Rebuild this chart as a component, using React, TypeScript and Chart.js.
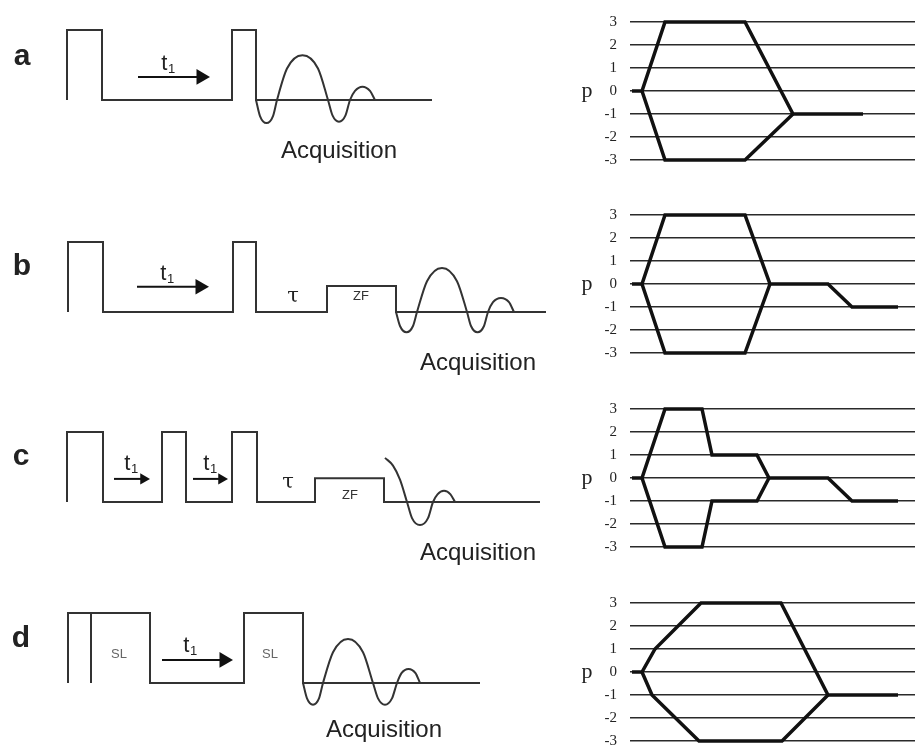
import React, { useEffect, useRef } from 'react';
import { Chart, registerables } from 'chart.js';
Chart.register(...registerables);

// ---------------- DATA ----------------
// Pulse sequences (time in a.u., amplitude: 0 = baseline, 1 = pulse top)
const seqA_t = [67, 67, 102, 102, 232, 232, 256, 256, 432];
const seqA_amp = [0, 1, 1, 0, 0, 1, 1, 0, 0];
const fidA_t = [256, 260, 266.5, 273, 277, 287, 302.5, 318, 328, 332.5, 339, 345.5, 350, 355, 362.5, 370, 375];
const fidA_amp = [0, -0.23, -0.33, -0.23, 0, 0.45, 0.64, 0.45, 0, -0.22, -0.31, -0.22, 0, 0.13, 0.19, 0.13, 0];

const seqB_t = [68, 68, 103, 103, 233, 233, 256, 256, 327, 327, 396, 396, 546];
const seqB_amp = [0, 1, 1, 0, 0, 1, 1, 0, 0, 0.37, 0.37, 0, 0];
const fidB_t = [396, 400, 406.5, 413, 417, 427, 442, 457, 467, 471, 477.5, 484, 488, 493, 501, 509, 514];
const fidB_amp = [0, -0.2, -0.29, -0.2, 0, 0.44, 0.63, 0.44, 0, -0.2, -0.29, -0.2, 0, 0.14, 0.2, 0.14, 0];

const seqC_t = [67, 67, 103, 103, 162, 162, 186, 186, 232, 232, 257, 257, 315, 315, 384, 384, 540];
const seqC_amp = [0, 1, 1, 0, 0, 1, 1, 0, 0, 1, 1, 0, 0, 0.34, 0.34, 0, 0];
const fidC_t = [385, 393, 400, 407, 412, 420, 428, 433, 437.5, 444, 450.5, 455];
const fidC_amp = [0.63, 0.52, 0.32, 0, -0.23, -0.33, -0.23, 0, 0.11, 0.16, 0.11, 0];

const seqD_t = [68, 68, 150, 150, 244, 244, 303, 303, 480];
const seqD_amp = [0, 1, 1, 0, 0, 1, 1, 0, 0];
const slD_t = [91, 91];
const slD_amp = [0, 1];
const fidD_t = [303, 307, 313, 319, 323, 333, 348, 363, 373, 378, 385, 392, 397, 401.5, 408.5, 415.5, 420];
const fidD_amp = [0, -0.22, -0.31, -0.22, 0, 0.44, 0.63, 0.44, 0, -0.22, -0.31, -0.22, 0, 0.14, 0.2, 0.14, 0];

// t1 evolution arrows: [start, end, level]
const arrowsA = [[138, 210, 0.33]];
const arrowsB = [[137, 209, 0.36]];
const arrowsC = [[114, 150, 0.33], [193, 228, 0.33]];
const arrowsD = [[162, 233, 0.33]];

// Coherence transfer pathways (time a.u., coherence order p)
const pTicks = [-3, -2, -1, 0, 1, 2, 3];
const pathA_up_t = [2, 12, 35, 115, 163, 233];
const pathA_up_p = [0, 0, 3, 3, -1, -1];
const pathA_lo_t = [12, 35, 115, 163];
const pathA_lo_p = [0, -3, -3, -1];

const pathB_up_t = [2, 12, 35, 115, 140, 198, 222, 268];
const pathB_up_p = [0, 0, 3, 3, 0, 0, -1, -1];
const pathB_lo_t = [12, 35, 115, 140];
const pathB_lo_p = [0, -3, -3, 0];

const pathC_up_t = [2, 12, 35, 72, 82, 127, 139, 198, 222, 268];
const pathC_up_p = [0, 0, 3, 3, 1, 1, 0, 0, -1, -1];
const pathC_lo_t = [12, 35, 72, 82, 127, 139];
const pathC_lo_p = [0, -3, -3, -1, -1, 0];

const pathD_up_t = [2, 12, 25, 71, 151, 198, 268];
const pathD_up_p = [0, 0, 1, 3, 3, -1, -1];
const pathD_lo_t = [12, 22, 69, 152, 198];
const pathD_lo_p = [0, -1, -3, -3, -1];

// ---------------- STYLE / LAYOUT ----------------
const LETTER_FONT = 'bold 30px "Liberation Sans", Arial, sans-serif';
const ACQ_FONT = '24px "Liberation Sans", Arial, sans-serif';
const T_FONT = '22px "Liberation Sans", Arial, sans-serif';
const SUB_FONT = '13px "Liberation Sans", Arial, sans-serif';
const TAU_FONT = '21px "DejaVu Serif", serif';
const SMALL_FONT = '13px "Liberation Sans", Arial, sans-serif';

type Label = { text: string; sub?: string; x: number; y: number; font: string; color?: string };

const labelsA: Label[] = [
  { text: 'a', x: 22, y: 0.5, font: LETTER_FONT },
  { text: 't', sub: '1', x: 168, y: 0.43, font: T_FONT },
  { text: 'Acquisition', x: 339, y: -0.83, font: ACQ_FONT },
];
const labelsB: Label[] = [
  { text: 'b', x: 22, y: 0.53, font: LETTER_FONT },
  { text: 't', sub: '1', x: 167, y: 0.46, font: T_FONT },
  { text: '\u03C4', x: 293, y: 0.14, font: TAU_FONT },
  { text: 'ZF', x: 361, y: 0.17, font: SMALL_FONT, color: '#333' },
  { text: 'Acquisition', x: 478, y: -0.83, font: ACQ_FONT },
];
const labelsC: Label[] = [
  { text: 'c', x: 21, y: 0.53, font: LETTER_FONT },
  { text: 't', sub: '1', x: 131, y: 0.46, font: T_FONT },
  { text: 't', sub: '1', x: 210, y: 0.46, font: T_FONT },
  { text: '\u03C4', x: 288, y: 0.2, font: TAU_FONT },
  { text: 'ZF', x: 350, y: 0.05, font: SMALL_FONT, color: '#333' },
  { text: 'Acquisition', x: 478, y: -0.83, font: ACQ_FONT },
];
const labelsD: Label[] = [
  { text: 'd', x: 21, y: 0.51, font: LETTER_FONT },
  { text: 'SL', x: 119, y: 0.36, font: SMALL_FONT, color: '#666' },
  { text: 'SL', x: 270, y: 0.36, font: SMALL_FONT, color: '#666' },
  { text: 't', sub: '1', x: 190, y: 0.44, font: T_FONT },
  { text: 'Acquisition', x: 384, y: -0.77, font: ACQ_FONT },
];

const PX_PER_UNIT = 70;
const LEFT_W = 560;
const LEFT_H = 190;
const LEFT_ABOVE = 100; // px from canvas top to baseline

const RIGHT_LEFT = 560;
const RIGHT_W = 355;
const RIGHT_PAD = 10;
const RIGHT_PLOT_H = 138;

const pts = (xs: number[], ys: number[]) => xs.map((x, i) => ({ x, y: ys[i] }));

const textPlugin = (labels: Label[]) => ({
  id: 'texts',
  afterDatasetsDraw(chart: any) {
    const { ctx, scales } = chart;
    const xs = scales.x;
    const ys = scales.y;
    ctx.save();
    ctx.textBaseline = 'alphabetic';
    for (const l of labels) {
      const px = xs.getPixelForValue(l.x);
      const py = ys.getPixelForValue(l.y);
      ctx.fillStyle = l.color || '#222';
      if (l.sub) {
        ctx.font = l.font;
        const w1 = ctx.measureText(l.text).width;
        ctx.font = SUB_FONT;
        const w2 = ctx.measureText(l.sub).width;
        const start = px - (w1 + w2) / 2;
        ctx.textAlign = 'left';
        ctx.font = l.font;
        ctx.fillText(l.text, start, py);
        ctx.font = SUB_FONT;
        ctx.fillText(l.sub, start + w1 + 0.5, py + 3);
      } else {
        ctx.font = l.font;
        ctx.textAlign = 'center';
        ctx.fillText(l.text, px, py);
      }
    }
    ctx.restore();
  },
});

const lineDs = (data: any[], extra: any = {}) => ({
  data,
  showLine: true,
  borderColor: '#333',
  borderWidth: 2,
  pointRadius: 0,
  tension: 0,
  borderJoinStyle: 'miter',
  clip: false,
  ...extra,
});

function leftConfig(seqs: [number[], number[]][], fid: [number[], number[]], arrows: number[][], labels: Label[], headR: number) {
  const datasets: any[] = [];
  seqs.forEach(([t, a]) => datasets.push(lineDs(pts(t, a))));
  datasets.push(lineDs(pts(fid[0], fid[1]), { cubicInterpolationMode: 'monotone', borderJoinStyle: 'round' }));
  arrows.forEach(([s, e, lv]) => {
    datasets.push(lineDs([{ x: s, y: lv }, { x: e - headR, y: lv }], { borderColor: '#111', borderWidth: 2 }));
    datasets.push({
      data: [{ x: e - headR, y: lv }],
      showLine: false,
      pointStyle: 'triangle',
      pointRotation: 90,
      pointRadius: headR,
      pointBackgroundColor: '#111',
      pointBorderColor: '#111',
      pointBorderWidth: 0,
      clip: false,
    });
  });
  return {
    type: 'scatter',
    data: { datasets },
    options: {
      animation: false,
      responsive: false,
      devicePixelRatio: 1,
      layout: { padding: 0, autoPadding: false },
      plugins: { legend: { display: false }, tooltip: { enabled: false } },
      events: [],
      scales: {
        x: { type: 'linear', display: false, min: 0, max: LEFT_W },
        y: {
          type: 'linear',
          display: false,
          min: -(LEFT_H - LEFT_ABOVE) / PX_PER_UNIT,
          max: LEFT_ABOVE / PX_PER_UNIT,
        },
      },
    },
    plugins: [textPlugin(labels)],
  };
}

const pPlugin = {
  id: 'pLabel',
  afterDraw(chart: any) {
    const { ctx, chartArea, scales } = chart;
    const y0 = scales.y.getPixelForValue(0);
    ctx.save();
    ctx.font = '22px "Liberation Serif", "Times New Roman", serif';
    ctx.fillStyle = '#222';
    ctx.textAlign = 'center';
    ctx.textBaseline = 'alphabetic';
    ctx.fillText('p', chartArea.left - 43, y0 + 6);
    ctx.restore();
  },
};

function rightConfig(up: [number[], number[]], lo: [number[], number[]]) {
  const pathStyle = { borderColor: '#111', borderWidth: 3.5, borderJoinStyle: 'miter' };
  return {
    type: 'scatter',
    data: {
      datasets: [
        lineDs(pts(up[0], up[1]), pathStyle),
        lineDs(pts(lo[0], lo[1]), pathStyle),
      ],
    },
    options: {
      animation: false,
      responsive: false,
      devicePixelRatio: 1,
      layout: { padding: { top: RIGHT_PAD, bottom: RIGHT_PAD, left: 0, right: 0 }, autoPadding: false },
      plugins: { legend: { display: false }, tooltip: { enabled: false } },
      events: [],
      scales: {
        x: { type: 'linear', display: false, min: 0, max: 285 },
        y: {
          type: 'linear',
          min: pTicks[0],
          max: pTicks[pTicks.length - 1],
          afterFit: (scale: any) => {
            scale.width = 70;
            scale.paddingTop = 0;
            scale.paddingBottom = 0;
          },
          afterBuildTicks: (scale: any) => {
            scale.ticks = pTicks.map((v) => ({ value: v }));
          },
          border: { display: false },
          grid: { color: '#2a2a2a', lineWidth: 1.6, drawTicks: false },
          ticks: {
            padding: 13,
            color: '#222',
            font: { family: '"Liberation Serif", "Times New Roman", serif', size: 15 },
            callback: (v: any) => String(v),
          },
        },
      },
    },
    plugins: [pPlugin],
  };
}

function ChartCanvas({ config, left, top, width, height }: any) {
  const ref = useRef<HTMLCanvasElement>(null);
  useEffect(() => {
    if (!ref.current) return;
    const c = new Chart(ref.current, config);
    return () => c.destroy();
  }, []);
  return (
    <canvas
      ref={ref}
      width={width}
      height={height}
      style={{ position: 'absolute', left, top, width, height }}
    />
  );
}

const baselines = [100, 312, 502, 683];
const pTopPx = [22, 215, 409, 603];

export default function App() {
  const lefts = [
    leftConfig([[seqA_t, seqA_amp]], [fidA_t, fidA_amp], arrowsA, labelsA, 9),
    leftConfig([[seqB_t, seqB_amp]], [fidB_t, fidB_amp], arrowsB, labelsB, 9),
    leftConfig([[seqC_t, seqC_amp]], [fidC_t, fidC_amp], arrowsC, labelsC, 6.5),
    leftConfig([[seqD_t, seqD_amp], [slD_t, slD_amp]], [fidD_t, fidD_amp], arrowsD, labelsD, 9),
  ];
  const rights = [
    rightConfig([pathA_up_t, pathA_up_p], [pathA_lo_t, pathA_lo_p]),
    rightConfig([pathB_up_t, pathB_up_p], [pathB_lo_t, pathB_lo_p]),
    rightConfig([pathC_up_t, pathC_up_p], [pathC_lo_t, pathC_lo_p]),
    rightConfig([pathD_up_t, pathD_up_p], [pathD_lo_t, pathD_lo_p]),
  ];
  return (
    <div
      style={{
        position: 'absolute',
        left: 0,
        top: 0,
        width: 915,
        height: 747,
        overflow: 'hidden',
        background: '#fff',
      }}
    >
      {lefts.map((cfg, i) => (
        <ChartCanvas
          key={'l' + i}
          config={cfg}
          left={0}
          top={baselines[i] - LEFT_ABOVE}
          width={LEFT_W}
          height={LEFT_H}
        />
      ))}
      {rights.map((cfg, i) => (
        <ChartCanvas
          key={'r' + i}
          config={cfg}
          left={RIGHT_LEFT}
          top={pTopPx[i] - RIGHT_PAD}
          width={RIGHT_W}
          height={RIGHT_PLOT_H + 2 * RIGHT_PAD}
        />
      ))}
    </div>
  );
}
